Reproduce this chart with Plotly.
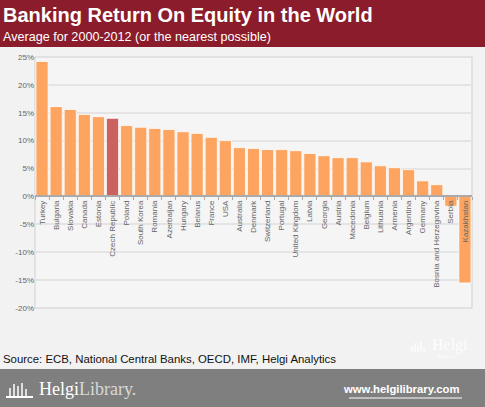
import plotly.graph_objects as go

countries = ["Turkey", "Bulgaria", "Slovakia", "Canada", "Estonia", "Czech Republic",
             "Poland", "South Korea", "Romania", "Azerbaijan", "Hungary", "Belarus",
             "France", "USA", "Australia", "Denmark", "Switzerland", "Portugal",
             "United Kingdom", "Latvia", "Georgia", "Austria", "Macedonia", "Belgium",
             "Lithuania", "Armenia", "Argentina", "Germany", "Bosnia and Herzegovina",
             "Serbia", "Kazakhstan"]
roe = [24.2, 16.1, 15.6, 14.7, 14.3, 14.0, 12.7, 12.4, 12.2, 12.0, 11.6, 11.3,
       10.6, 10.0, 8.75, 8.6, 8.4, 8.4, 8.2, 7.7, 7.3, 6.95, 6.95, 6.2,
       5.5, 5.15, 4.8, 2.8, 2.1, -1.75, -15.5]
highlight = "Czech Republic"
y_ticks = [-20, -15, -10, -5, 0, 5, 10, 15, 20, 25]
y_tick_labels = ["-20%", "-15%", "-10%", "-5%", "0%", "5%", "10%", "15%", "20%", "25%"]

W, H = 485, 407
L, R, T, B = 35, 13, 57, 99
PW, PH = W - L - R, H - T - B


def px(x, y):
    return (x - L) / PW, (H - B - y) / PH


ORANGE = "#FCA460"
RED = "#CC6260"
colors = [RED if c == highlight else ORANGE for c in countries]

fig = go.Figure()
fig.add_trace(go.Bar(
    x=countries, y=roe,
    marker=dict(color=colors, line=dict(color="rgba(255,255,255,0.75)", width=1)),
    hoverinfo="x+y",
))

ymin, ymax = -20, 25
zero_pos = (0 - ymin) / (ymax - ymin)

shapes = []
# page header band
x0, y0 = px(0, 0)
x1, y1 = px(W, 47)
shapes.append(dict(type="rect", xref="paper", yref="paper", x0=x0, x1=x1, y0=y1, y1=y0,
                   fillcolor="#8B1C2B", line=dict(width=0), layer="below"))
# footer band
x0, y0 = px(0, 369)
x1, y1 = px(W, H)
shapes.append(dict(type="rect", xref="paper", yref="paper", x0=x0, x1=x1, y0=y1, y1=y0,
                   fillcolor="#7F7F7F", line=dict(width=0), layer="below"))
# plot frame
shapes.append(dict(type="rect", xref="paper", yref="paper", x0=0, x1=1, y0=0, y1=1,
                   line=dict(color="#DCDCDC", width=1.5), layer="below"))
# url underline
ux0, uy = px(349, 398)
ux1, _ = px(462, 398)
shapes.append(dict(type="line", xref="paper", yref="paper", x0=ux0, x1=ux1, y0=uy, y1=uy,
                   line=dict(color="white", width=1)))
# small logo icon in footer
for i, hgt in enumerate([8, 12, 10, 13, 7]):
    lx, ly0 = px(10 + i * 4, 396)
    _, ly1 = px(10 + i * 4, 396 - hgt)
    shapes.append(dict(type="line", xref="paper", yref="paper", x0=lx, x1=lx, y0=ly0, y1=ly1,
                       line=dict(color="white", width=1.5)))
bx0, by = px(6, 397)
bx1, _ = px(33, 397)
shapes.append(dict(type="line", xref="paper", yref="paper", x0=bx0, x1=bx1, y0=by, y1=by,
                   line=dict(color="white", width=2)))
# watermark icon
for i, hgt in enumerate([6, 9, 7, 10, 5]):
    lx, ly0 = px(412 + i * 3, 352)
    _, ly1 = px(412 + i * 3, 352 - hgt)
    shapes.append(dict(type="line", xref="paper", yref="paper", x0=lx, x1=lx, y0=ly0, y1=ly1,
                       line=dict(color="white", width=1.2)))

annotations = []


def ann(text, x, y, size, color="white", xanchor="left", family="Arial, Liberation Sans, sans-serif", **kw):
    xp, yp = px(x, y)
    annotations.append(dict(text=text, x=xp, y=yp, xref="paper", yref="paper",
                            xanchor=xanchor, yanchor="middle", showarrow=False,
                            font=dict(size=size, color=color, family=family), **kw))


ann("<b>Banking Return On Equity in the World</b>", 1, 15, 20)
ann("Average for 2000-2012 (or the nearest possible)", 1, 37, 12.6)
ann("Source: ECB, National Central Banks, OECD, IMF, Helgi Analytics", 1, 359, 11.4, color="#111111")
ann("Helgi", 37, 389, 18, family="Liberation Serif, DejaVu Serif, serif")
ann("Library.", 77, 389, 18, color="#D8D8D8", family="Liberation Serif, DejaVu Serif, serif")
ann("<b>www.helgilibrary.com</b>", 462, 389, 11.3, xanchor="right")
ann("Helgi", 430, 345, 16, color="white", family="Liberation Serif, DejaVu Serif, serif", opacity=0.9)
ann("Analytics", 447, 356, 5, color="white", xanchor="center", opacity=0.8)

fig.update_layout(
    width=W, height=H,
    margin=dict(l=L, r=R, t=T, b=B, pad=0),
    paper_bgcolor="#F2F2F2",
    plot_bgcolor="#F5F5F5",
    bargap=0.14,
    showlegend=False,
    shapes=shapes,
    annotations=annotations,
    font=dict(family="Arial, Liberation Sans, sans-serif"),
    xaxis=dict(
        type="category",
        anchor="free", position=zero_pos,
        showline=True, linecolor="#AAAAAA", linewidth=2,
        ticks="outside", tickson="boundaries", ticklen=3, tickcolor="#AAAAAA",
        tickangle=-90,
        tickfont=dict(size=8, color="#666666"),
        showgrid=False,
    ),
    yaxis=dict(
        range=[ymin, ymax],
        tickvals=y_ticks, ticktext=y_tick_labels,
        tickfont=dict(size=8, color="#666666"),
        showgrid=True, gridcolor="#E4E4E4", gridwidth=2,
        zeroline=False, showline=False,
        ticks="", ticklen=0,
    ),
)

fig.write_html("out.html",
               config={"displayModeBar": False},
               post_script="document.body.style.margin='0';document.body.style.overflow='hidden';")
